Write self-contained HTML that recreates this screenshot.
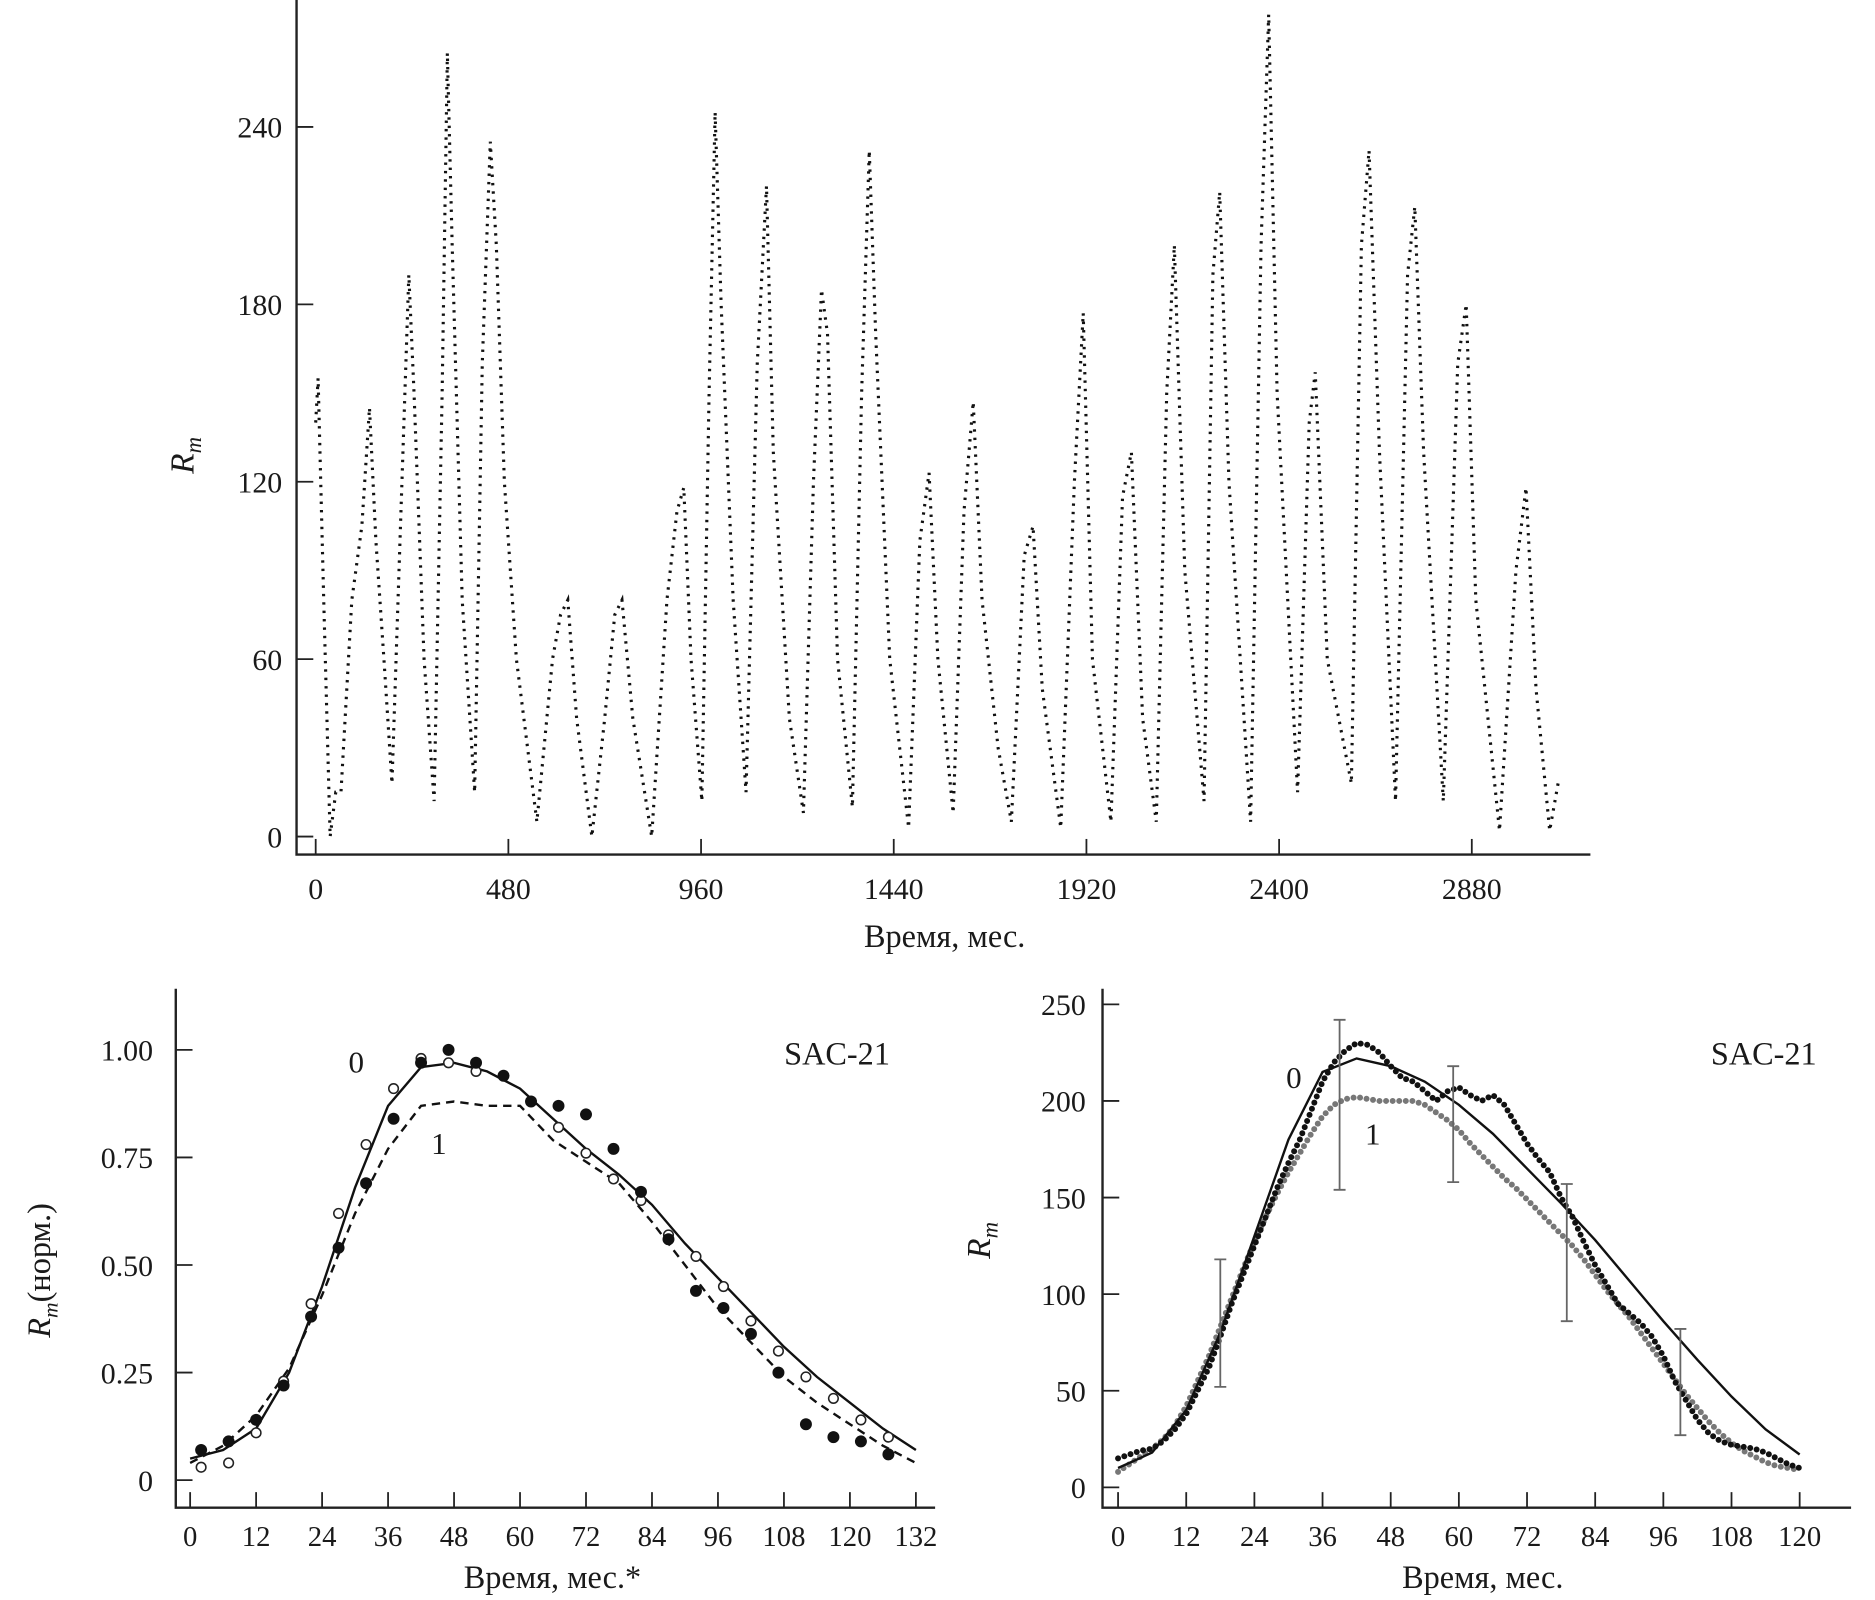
<!DOCTYPE html>
<html><head><meta charset="utf-8"><style>
html,body{margin:0;padding:0;background:#fff;}
svg{display:block;}
text{font-family:"Liberation Serif",serif;fill:#1a1a1a;}
</style></head><body>
<svg id="fig" width="1875" height="1600" viewBox="0 0 1568 1335" preserveAspectRatio="none" xmlns="http://www.w3.org/2000/svg"></svg>
<script>
// ---- Top chart data (month, Rm) key points ----
const topMonths=[0,6,20,36,50,63,90,115,134,150,170,190,210,232,245,270,295,315,328,340,365,396,415,435,450,470,500,551,590,610,628,650,688,720,745,763,790,837,875,900,917,935,962,980,995,1010,1040,1072,1100,1123,1140,1180,1215,1240,1260,1275,1300,1337,1360,1379,1395,1430,1477,1505,1528,1550,1588,1615,1638,1660,1700,1733,1765,1787,1810,1856,1890,1912,1935,1981,2010,2032,2060,2094,2120,2139,2165,2213,2235,2252,2275,2329,2355,2374,2395,2446,2475,2490,2520,2580,2605,2624,2650,2690,2720,2738,2760,2809,2845,2866,2890,2949,2990,3015,3040,3074,3095];
const topValues=[140,155,80,0,15,15,80,105,145,100,60,18,100,190,150,60,12,150,265,200,80,15,160,235,200,120,60,5,60,75,80,40,0,40,75,80,40,0,80,110,118,60,12,150,245,180,80,15,160,220,130,40,8,120,185,170,60,10,150,232,170,60,3,100,123,60,8,110,147,80,30,5,95,105,50,3,120,177,60,5,115,130,40,5,150,200,90,12,190,218,120,5,200,278,150,15,140,157,60,18,200,232,130,12,190,213,130,12,160,180,80,2,90,118,50,2,18];
const topXTicks=[0,480,960,1440,1920,2400,2880];
const topYTicks=[0,60,120,180,240];
// ---- Bottom-left data ----
const blOpenX=[2,7,12,17,22,27,32,37,42,47,52,57,62,67,72,77,82,87,92,97,102,107,112,117,122,127];
const blOpenY=[0.03,0.04,0.11,0.23,0.41,0.62,0.78,0.91,0.98,0.97,0.95,0.94,0.88,0.82,0.76,0.70,0.65,0.57,0.52,0.45,0.37,0.30,0.24,0.19,0.14,0.10];
const blFillY=[0.07,0.09,0.14,0.22,0.38,0.54,0.69,0.84,0.97,1.00,0.97,0.94,0.88,0.87,0.85,0.77,0.67,0.56,0.44,0.40,0.34,0.25,0.13,0.10,0.09,0.06];
const blLineX=[0,6,12,18,24,30,36,42,48,54,60,66,72,78,84,90,96,102,108,114,120,126,132];
const blLine0=[0.05,0.07,0.12,0.25,0.45,0.68,0.87,0.96,0.97,0.95,0.91,0.84,0.77,0.71,0.64,0.55,0.47,0.39,0.31,0.24,0.18,0.12,0.07];
const blLine1=[0.04,0.08,0.15,0.26,0.43,0.62,0.77,0.87,0.88,0.87,0.87,0.79,0.74,0.69,0.60,0.50,0.40,0.32,0.24,0.18,0.13,0.08,0.04];
const blXTicks=[0,12,24,36,48,60,72,84,96,108,120,132];
const blYTicks=[0,0.25,0.5,0.75,1.0];
const blYLabels=["0","0.25","0.50","0.75","1.00"];
// ---- Bottom-right data ----
const brLineX=[0,6,12,18,24,30,36,42,48,54,60,66,72,78,84,90,96,102,108,114,120];
const brLine0=[10,18,40,80,130,180,215,222,218,210,198,183,165,147,128,107,86,66,47,30,17];
const brDotX=[0,2,4,6,8,10,12,14,16,18,20,22,24,26,28,30,32,34,36,38,40,42,44,46,48,50,52,54,56,58,60,62,64,66,68,70,72,74,76,78,80,82,84,86,88,90,92,94,96,98,100,102,104,106,108,110,112,114,116,118,120];
const brDots0=[15,17,19,20,24,30,38,50,62,78,95,110,125,140,155,168,180,195,210,220,226,230,229,225,218,212,210,205,200,205,207,203,200,203,198,188,178,170,163,150,140,127,115,105,95,90,85,78,68,55,45,35,28,24,22,21,20,18,15,12,10];
const brDots1=[8,12,16,20,25,32,42,55,68,83,98,113,127,140,152,163,173,183,192,198,201,202,201,200,200,200,200,198,194,190,185,178,172,166,160,155,149,143,137,131,125,118,110,102,95,88,80,72,64,56,48,41,34,28,23,19,16,13,11,10,9];
const brErrX=[18,39,59,79,99];
const brErrLo=[52,154,158,86,27];
const brErrHi=[118,242,218,157,82];
const brXTicks=[0,12,24,36,48,60,72,84,96,108,120];
const brYTicks=[0,50,100,150,200,250];

const svg=document.getElementById('fig');
const NS='http://www.w3.org/2000/svg';
function el(tag,attrs,parent){const e=document.createElementNS(NS,tag);for(const k in attrs)e.setAttribute(k,attrs[k]);(parent||svg).appendChild(e);return e;}
function txt(s,x,y,size,anchor,parent,extra){const t=el('text',Object.assign({x:x,y:y,'font-size':size,'text-anchor':anchor||'middle'},extra||{}),parent);t.textContent=s;return t;}
function pts(xs,ys,fx,fy){return xs.map((v,i)=>fx(v)+','+fy(ys[i])).join(' ');}

// ===== Top chart =====
const gT=el('g',{});


const tx=m=>264+m*0.3357, ty=v=>698-v*2.467;
el('path',{d:'M248,0 V713 H1330',stroke:'#222','stroke-width':2,fill:'none'},gT);
topXTicks.forEach(t=>{el('line',{x1:tx(t),x2:tx(t),y1:713,y2:700,stroke:'#222','stroke-width':1.5},gT);
  const l=txt(String(t),tx(t),750,25,'middle',gT);});
topYTicks.forEach(t=>{el('line',{x1:248,x2:262,y1:ty(t),y2:ty(t),stroke:'#222','stroke-width':1.5},gT);
  const l=txt(String(t),236,ty(t)+9,25,'end',gT);});
const topLine=el('polyline',{points:pts(topMonths,topValues,tx,ty),fill:'none',stroke:'#111','stroke-width':2.6,'stroke-dasharray':'2 5'},gT);


const tt=txt('Время, мес.',790,790,27,'middle',gT);

const ty1=el('text',{x:0,y:0,'font-size':28,'font-style':'italic','text-anchor':'middle',transform:'translate(162,380) rotate(-90)'},gT);
ty1.innerHTML='R<tspan font-size="19" dy="6">m</tspan>';


// ===== Bottom-left =====
const gL=el('g',{});


const lx=m=>159+m*4.598, ly=v=>1235-v*359;
el('path',{d:'M147,825 V1258 H782',stroke:'#222','stroke-width':2,fill:'none'},gL);
blXTicks.forEach(t=>{el('line',{x1:lx(t),x2:lx(t),y1:1258,y2:1245,stroke:'#222','stroke-width':1.5},gL);
  const l=txt(String(t),lx(t),1290,24,'middle',gL);});
blYTicks.forEach((t,i)=>{el('line',{x1:147,x2:161,y1:ly(t),y2:ly(t),stroke:'#222','stroke-width':1.5},gL);
  const l=txt(blYLabels[i],128,ly(t)+9,25,'end',gL);});
const l0=el('polyline',{points:pts(blLineX,blLine0,lx,ly),fill:'none',stroke:'#111','stroke-width':2},gL);

const l1=el('polyline',{points:pts(blLineX,blLine1,lx,ly),fill:'none',stroke:'#111','stroke-width':2,'stroke-dasharray':'7 5'},gL);

blOpenX.forEach((m,i)=>{
  const c=el('circle',{cx:lx(m),cy:ly(blOpenY[i]),r:4,fill:'#fff',stroke:'#222','stroke-width':1.3},gL);
  
  const f=el('circle',{cx:lx(m),cy:ly(blFillY[i]),r:5,fill:'#111'},gL);
  
});
txt('SAC-21',700,888,27,'middle',gL);
txt('0',298,895,26,'middle',gL);
txt('1',367,963,26,'middle',gL);
const lt=txt('Время, мес.*',462,1325,27,'middle',gL);

const ly1=el('text',{x:0,y:0,'font-size':27,'text-anchor':'middle',transform:'translate(42,1060) rotate(-90)'},gL);
ly1.innerHTML='<tspan font-style="italic">R</tspan><tspan font-size="18" font-style="italic" dy="6">m</tspan><tspan dy="-6">(норм.)</tspan>';


// ===== Bottom-right =====
const gR=el('g',{});


const rx=m=>935+m*4.75, ry=v=>1241-v*1.612;
el('path',{d:'M922,825 V1258 H1548',stroke:'#222','stroke-width':2,fill:'none'},gR);
brXTicks.forEach(t=>{el('line',{x1:rx(t),x2:rx(t),y1:1258,y2:1245,stroke:'#222','stroke-width':1.5},gR);
  const l=txt(String(t),rx(t),1290,24,'middle',gR);});
brYTicks.forEach(t=>{el('line',{x1:922,x2:936,y1:ry(t),y2:ry(t),stroke:'#222','stroke-width':1.5},gR);
  const l=txt(String(t),908,ry(t)+9,25,'end',gR);});
const d1=el('polyline',{points:pts(brDotX,brDots1,rx,ry),fill:'none',stroke:'#777','stroke-width':5,'stroke-dasharray':'0 5.5','stroke-linecap':'round'},gR);

const d0=el('polyline',{points:pts(brDotX,brDots0,rx,ry),fill:'none',stroke:'#111','stroke-width':5,'stroke-dasharray':'0 5.5','stroke-linecap':'round'},gR);

const r0=el('polyline',{points:pts(brLineX,brLine0,rx,ry),fill:'none',stroke:'#111','stroke-width':2},gR);

brErrX.forEach((m,i)=>{
  const e=el('path',{d:`M${rx(m)},${ry(brErrLo[i])} V${ry(brErrHi[i])} M${rx(m)-5},${ry(brErrLo[i])} h10 M${rx(m)-5},${ry(brErrHi[i])} h10`,stroke:'#666','stroke-width':1.5,fill:'none'},gR);
  
});
txt('SAC-21',1475,888,27,'middle',gR);
txt('0',1082,908,26,'middle',gR);
txt('1',1148,955,26,'middle',gR);
const rt=txt('Время, мес.',1240,1325,27,'middle',gR);

const ry1=el('text',{x:0,y:0,'font-size':28,'font-style':'italic','text-anchor':'middle',transform:'translate(828,1035) rotate(-90)'},gR);
ry1.innerHTML='R<tspan font-size="19" dy="6">m</tspan>';

</script>
</body></html>
